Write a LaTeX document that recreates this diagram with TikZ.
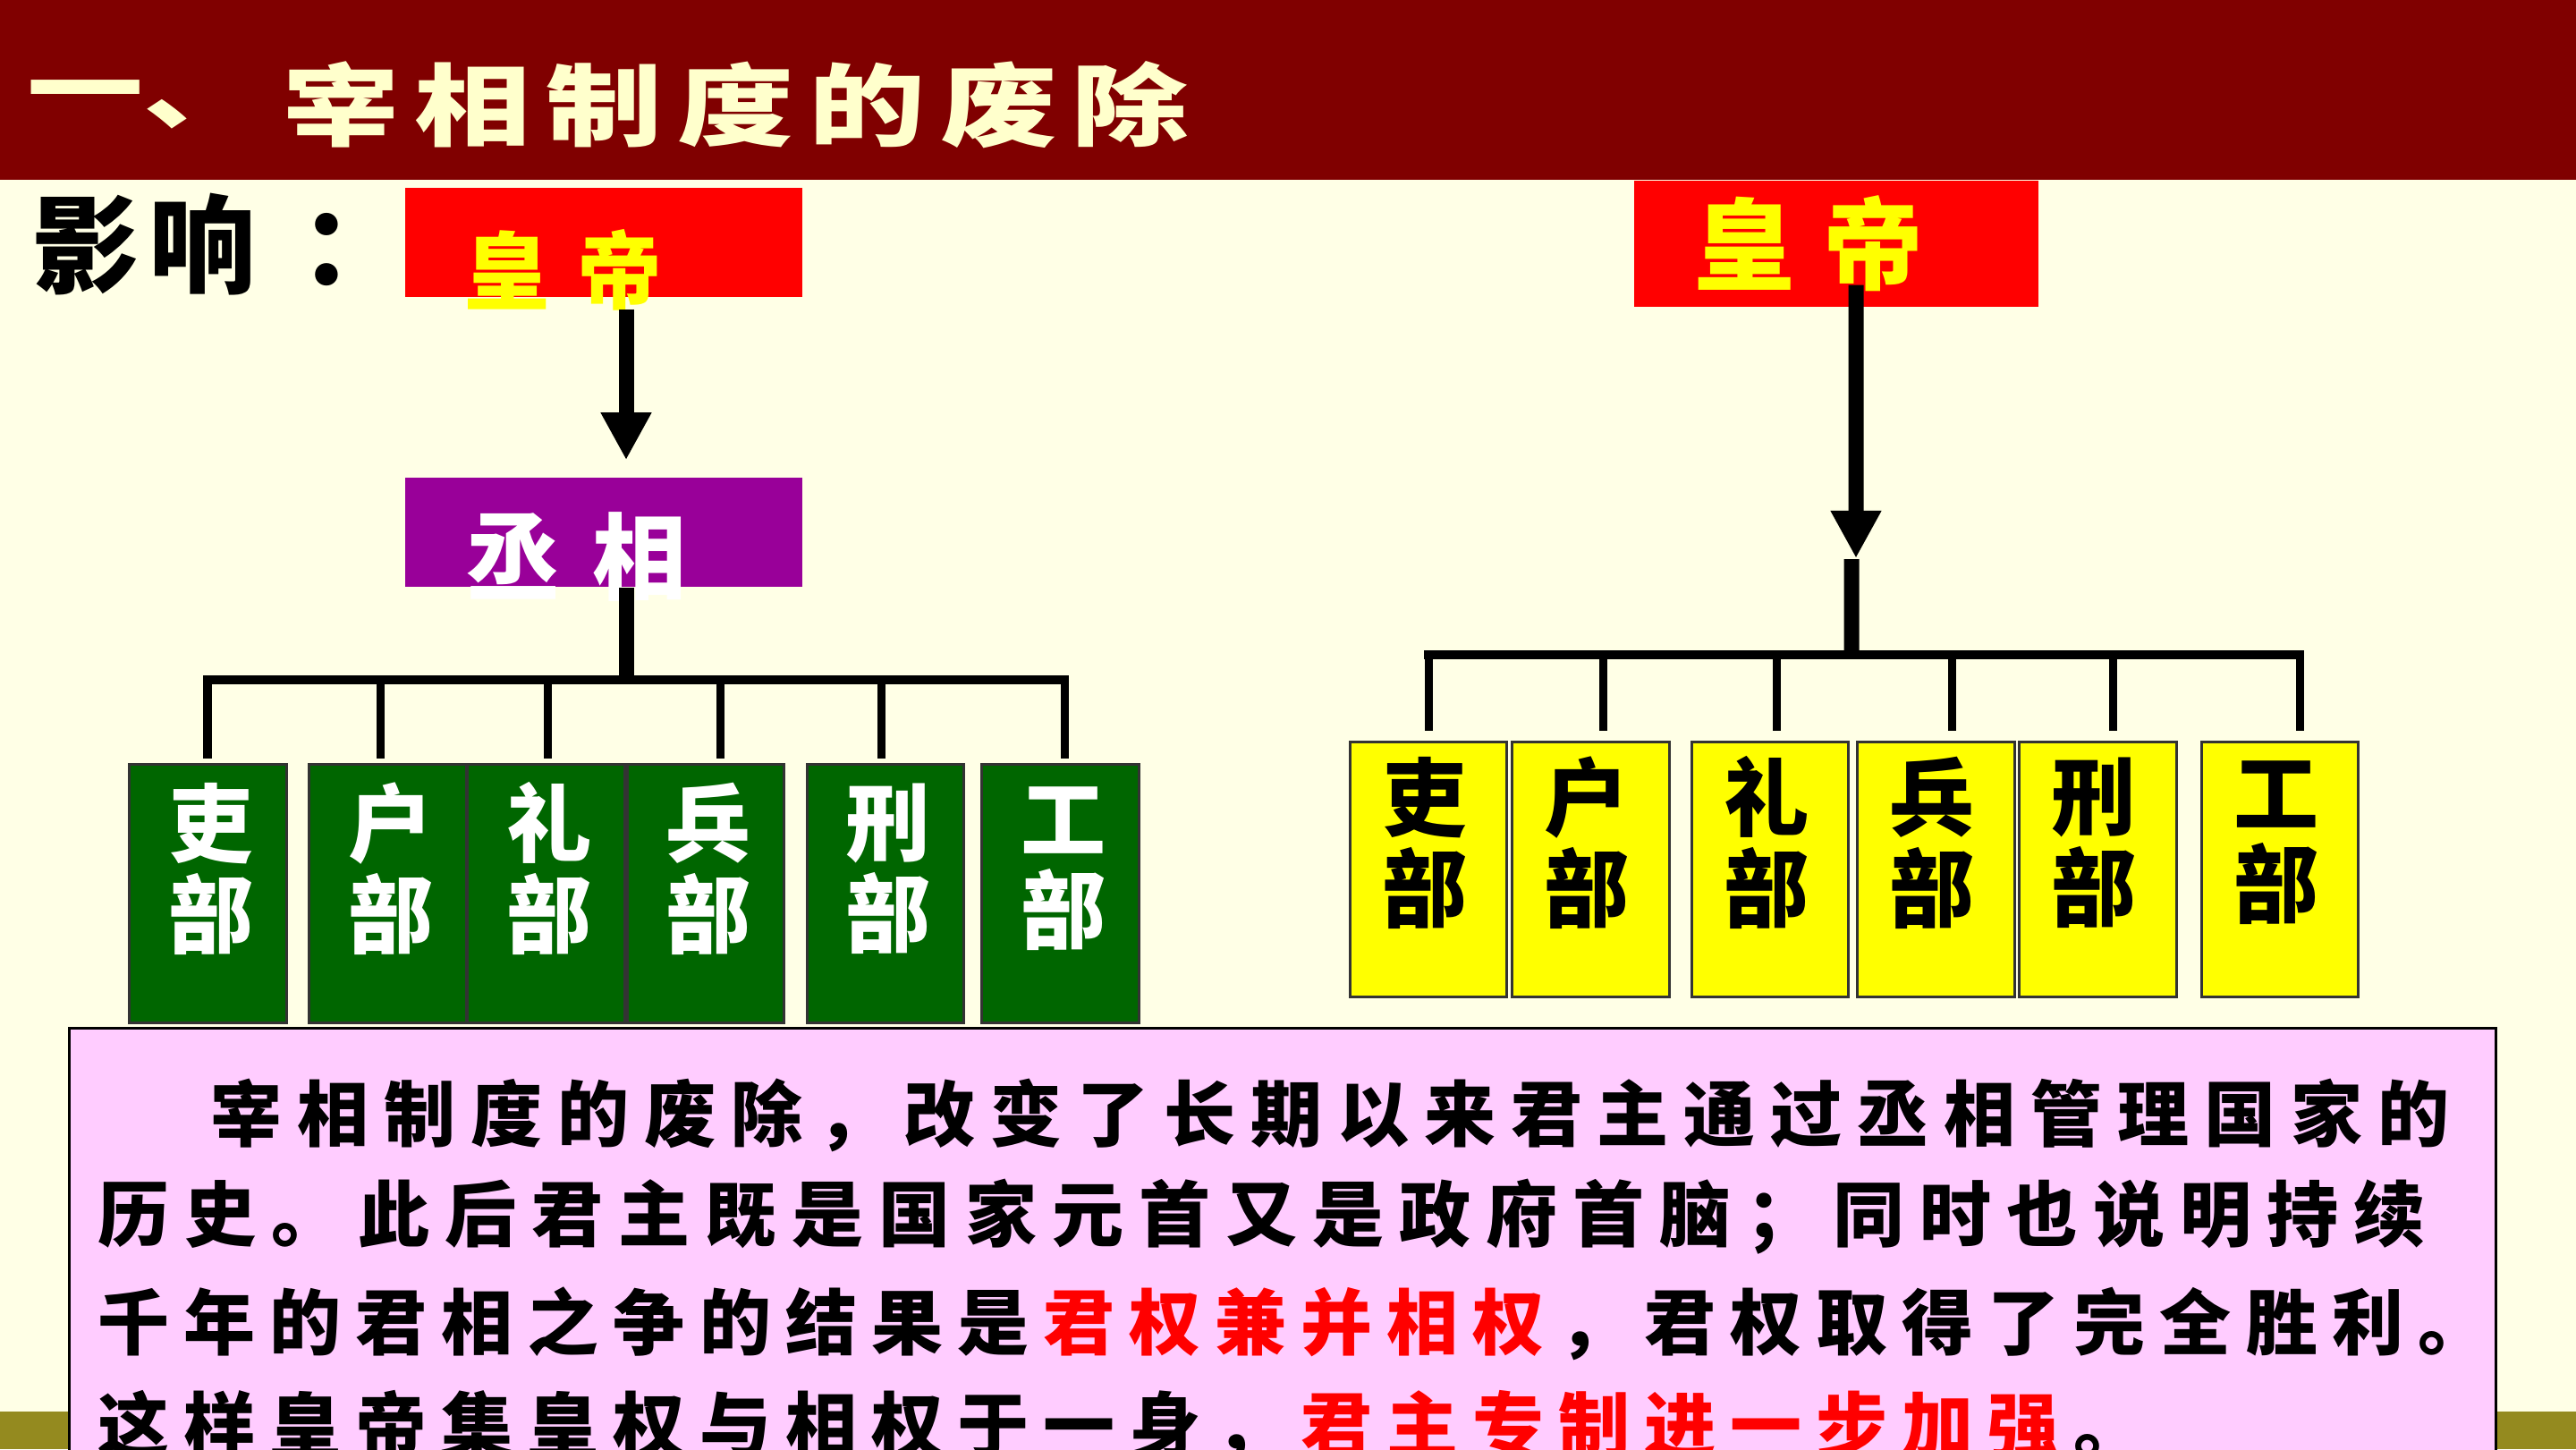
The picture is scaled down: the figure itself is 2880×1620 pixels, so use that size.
\documentclass[tikz,border=0pt]{standalone}
\usepackage{graphicx}
\usepackage{fontspec}
\usetikzlibrary{arrows.meta}
\newfontfamily\cjk{Noto Sans CJK SC}
\newfontfamily\cjkblack{Noto Sans CJK SC Black}
\definecolor{bgcream}{HTML}{FFFFE6}
\definecolor{titlered}{HTML}{800000}
\definecolor{titlecream}{HTML}{FFFFCC}
\definecolor{oliveband}{HTML}{948A1F}
\definecolor{emperorred}{HTML}{FF0000}
\definecolor{emperoryellow}{HTML}{FFFF00}
\definecolor{chancellorpurple}{HTML}{990099}
\definecolor{deptgreen}{HTML}{006600}
\definecolor{deptyellow}{HTML}{FFFF00}
\definecolor{deptline}{HTML}{333333}
\definecolor{notepink}{HTML}{FFCCFF}
\definecolor{bodyred}{HTML}{FF0000}
\newcommand\spreadline[2]{\hbox to #1{\spaceskip=0pt plus 1fil\relax\xspaceskip=0pt plus 1fil\relax #2}}
\tikzset{
  plainbox/.style={inner sep=0, draw=none},
  empbox/.style={plainbox, fill=emperorred},
  emptext/.style={inner sep=0, text=emperoryellow, font=\cjk\bfseries\fontsize{#1}{#1}\selectfont},
  deptbox/.style={draw=deptline, line width=0.03cm, inner sep=0, minimum width=1.75cm, minimum height=#1},
  greendept/.style={deptbox=2.88cm, fill=deptgreen},
  yellowdept/.style={deptbox=2.84cm, fill=deptyellow},
  deptlabel/.style={inner sep=0, align=center, font=\cjkblack\fontsize{27}{29}\selectfont},
  bigarrow/.style={line width=0.17cm, -{Triangle[length=0.53cm, width=0.53cm]}},
  stem/.style={line width=0.17cm},
  barline/.style={line width=0.10cm, line cap=rect},
  tickline/.style={line width=0.09cm},
  bodyline/.style={anchor=west, inner sep=0, font=\cjk\bfseries\fontsize{22.76}{24}\selectfont},
}
\begin{document}
\begin{tikzpicture}[x=0.01cm, y=-0.01cm]
\useasboundingbox (0,0) rectangle (2880,1620);
\clip (0,0) rectangle (2880,1620);
\fill[bgcream] (0,0) rectangle (2880,1620);
\fill[oliveband] (0,1578) rectangle (2880,1620);
\fill[titlered] (0,0) rectangle (2880,201);

% title
\node[anchor=west, inner sep=0, text=titlecream, font=\cjkblack\fontsize{28.45}{30}\selectfont] (ttlnum) at (30,117) {\scalebox{1.3}[1]{一、}};
\node[anchor=west, inner sep=0, text=titlecream, font=\cjkblack\fontsize{28.45}{30}\selectfont] (ttltext) at (316,117) {\scalebox{1.3}[1]{\spreadline{7.78cm}{宰 相 制 度 的 废 除}}};

% 影响
\node[anchor=west, inner sep=0, font=\cjkblack\fontsize{34}{36}\selectfont] (effect) at (36,273) {影\hspace{0.1cm}响\hspace{0.5cm}：};

% left diagram
\node[empbox, minimum width=4.44cm, minimum height=1.22cm] (lemp) at (675,271) {};
\node[emptext=27] (lempt) at (630,302) {皇\hspace{0.32cm}帝};
\node[plainbox, fill=chancellorpurple, minimum width=4.44cm, minimum height=1.22cm] (lpm) at (675,595) {};
\node[inner sep=0, text=white, font=\cjk\bfseries\fontsize{29.9}{30}\selectfont] (lpmt) at (645,623) {丞\hspace{0.36cm}相};
\draw[bigarrow] ([xshift=0.25cm, yshift=-0.13cm]lemp.south) -- ([xshift=0.25cm, yshift=0.19cm]lpm.north);

\node[greendept] (g1) at (232.5,999) {};
\node[greendept] (g2) at (433.5,999) {};
\node[greendept] (g3) at (610.5,999) {};
\node[greendept] (g4) at (789,999) {};
\node[greendept] (g5) at (990,999) {};
\node[greendept] (g6) at (1185.5,999) {};
\node[deptlabel, text=white] (g1t) at (236,971) {吏\\部};
\node[deptlabel, text=white] (g2t) at (437,971) {户\\部};
\node[deptlabel, text=white] (g3t) at (614,971) {礼\\部};
\node[deptlabel, text=white] (g4t) at (792,971) {兵\\部};
\node[deptlabel, text=white] (g5t) at (993,971) {刑\\部};
\node[deptlabel, text=white] (g6t) at (1189,971) {工\\部};

\coordinate (lb1) at (232,760);
\coordinate (lb2) at (425,760);
\coordinate (lb3) at (612,760);
\coordinate (lb4) at (805,760);
\coordinate (lb5) at (985,760);
\coordinate (lb6) at (1190,760);
\draw[stem] ([xshift=0.25cm]lpm.south) -- ([xshift=0.25cm]lpm.south |- lb1);
\draw[barline] (lb1) -- (lb6);
\foreach \i in {1,...,6} {
  \draw[tickline, shorten >=0.05cm] (lb\i) -- (lb\i |- g\i.north);
}

% right diagram
\node[empbox, minimum width=4.52cm, minimum height=1.41cm] (remp) at (2053,272.5) {};
\node[emptext=31.87] (rempt) at (2023,272) {皇\hspace{0.32cm}帝};
\coordinate (rtip) at (2075,624);
\coordinate (rhub) at (2070,732);
\draw[bigarrow] ([xshift=0.22cm, yshift=0.25cm]remp.south) -- (rtip);
\draw[stem] ([xshift=-0.05cm, yshift=-0.01cm]rtip) -- (rhub);

\node[yellowdept] (y1) at (1597,972) {};
\node[yellowdept] (y2) at (1778.5,972) {};
\node[yellowdept] (y3) at (1979,972) {};
\node[yellowdept] (y4) at (2164.5,972) {};
\node[yellowdept] (y5) at (2345.5,972) {};
\node[yellowdept] (y6) at (2549,972) {};
\node[deptlabel] (y1t) at (1593,942) {吏\\部};
\node[deptlabel] (y2t) at (1774,942) {户\\部};
\node[deptlabel] (y3t) at (1975,942) {礼\\部};
\node[deptlabel] (y4t) at (2160,942) {兵\\部};
\node[deptlabel] (y5t) at (2341,942) {刑\\部};
\node[deptlabel] (y6t) at (2545,942) {工\\部};

\coordinate (rb1) at (1597,732);
\coordinate (rb2) at (1792,732);
\coordinate (rb3) at (1986,732);
\coordinate (rb4) at (2182,732);
\coordinate (rb5) at (2362,732);
\coordinate (rb6) at (2571,732);
\draw[barline] (rb1) -- (rb6);
\foreach \i in {1,...,6} {
  \draw[tickline, shorten >=0.11cm] (rb\i) -- (rb\i |- y\i.north);
}

% note box
\node[draw=black, line width=0.03cm, fill=notepink, inner sep=0, minimum width=27.12cm, minimum height=5.1cm] (note) at (1434,1405) {};
\node[bodyline] (n1) at (235,1247) {\spreadline{25.01cm}{宰 相 制 度 的 废 除 ， 改 变 了 长 期 以 来 君 主 通 过 丞 相 管 理 国 家 的}};
\node[bodyline] (n2) at (109,1360) {\spreadline{26.00cm}{历 史 。 此 后 君 主 既 是 国 家 元 首 又 是 政 府 首 脑 ； 同 时 也 说 明 持 续}};
\node[bodyline] (n3) at (109,1480) {\spreadline{26.72cm}{千 年 的 君 相 之 争 的 结 果 是 {\color{bodyred}君 权 兼 并 相 权} ， 君 权 取 得 了 完 全 胜 利 。}};
\node[bodyline] (n4) at (109,1595) {\spreadline{22.88cm}{这 样 皇 帝 集 皇 权 与 相 权 于 一 身 ， {\color{bodyred}君 主 专 制 进 一 步 加 强} 。}};
\end{tikzpicture}
\end{document}
